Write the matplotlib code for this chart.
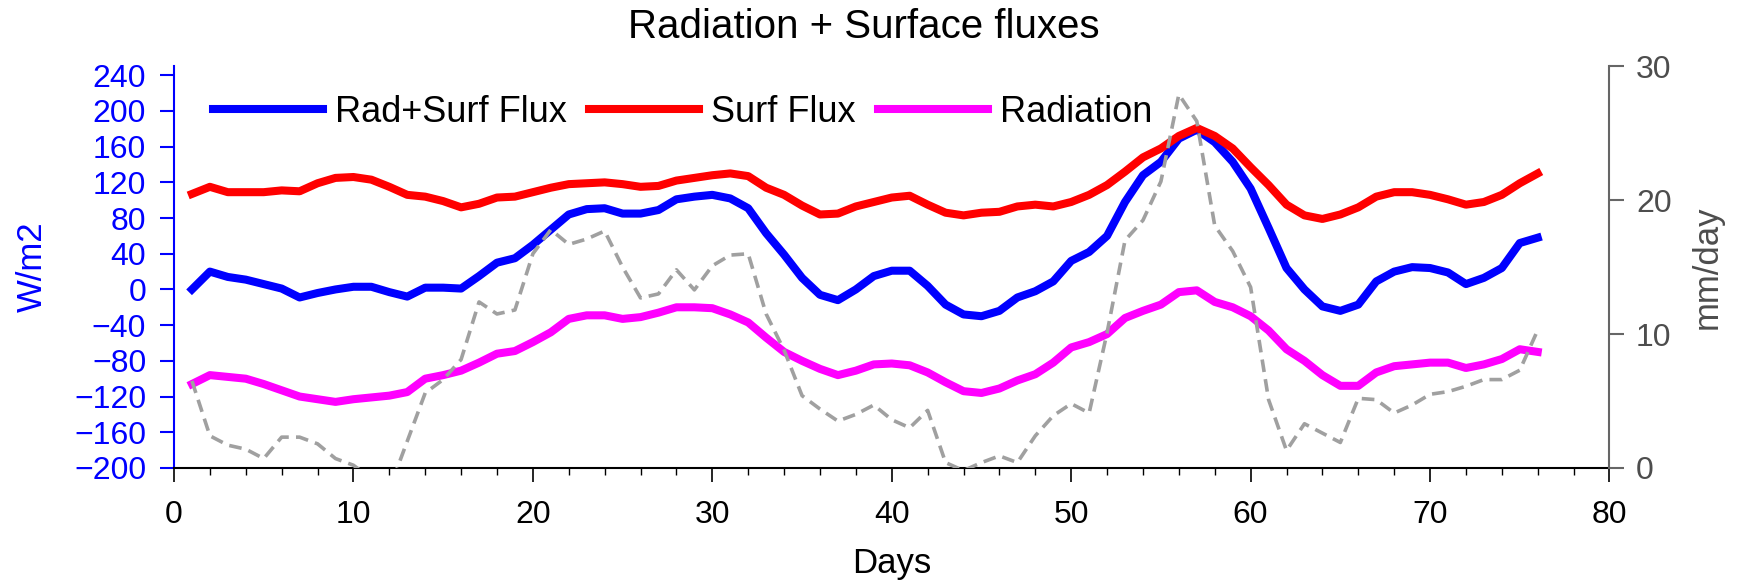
import numpy as np
import matplotlib
matplotlib.use('Agg')
import matplotlib.pyplot as plt
from matplotlib.ticker import MultipleLocator

plt.rcParams['font.family'] = ['Liberation Sans', 'DejaVu Sans']

# Дни наблюдений
days = np.arange(1, 77)

# Поток радиации + поверхностный поток (W/m2)
rad_surf = [0, 20, 14, 11, 6, 1, -9, -4, 0, 3,
            3, -3, -8, 2, 2, 1, 15, 30, 35, 50,
            67, 84, 90, 91, 85, 85, 89, 101, 104, 106,
            102, 91, 63, 39, 13, -6, -12, 0, 15, 21,
            21, 4, -17, -28, -30, -24, -9, -2, 9, 32,
            42, 60, 98, 128, 143, 169, 179, 165, 143, 113,
            69, 24, 0, -19, -24, -17, 9, 20, 25, 24,
            19, 6, 13, 24, 52, 58]

# Поверхностный поток (W/m2)
surf_flux = [107, 115, 109, 109, 109, 111, 110, 119, 125, 126,
             123, 115, 106, 104, 99, 92, 96, 103, 104, 109,
             114, 118, 119, 120, 118, 115, 116, 122, 125, 128,
             130, 127, 114, 106, 94, 84, 85, 93, 98, 103,
             105, 95, 86, 83, 86, 87, 93, 95, 93, 98,
             106, 117, 132, 148, 158, 172, 181, 172, 158, 137,
             117, 95, 83, 79, 84, 92, 104, 109, 109, 106,
             101, 95, 98, 106, 119, 130]

# Радиация (W/m2)
radiation = [-106, -96, -98, -100, -106, -113, -120, -123, -126, -123,
             -121, -119, -115, -100, -96, -91, -82, -72, -69, -59,
             -48, -33, -29, -29, -33, -31, -26, -20, -20, -21,
             -28, -37, -54, -70, -80, -89, -96, -91, -84, -83,
             -85, -93, -104, -114, -116, -111, -102, -95, -82, -65,
             -59, -50, -32, -24, -17, -3, -1, -14, -20, -30,
             -46, -67, -80, -96, -108, -108, -93, -86, -84, -82,
             -82, -88, -84, -78, -67, -70]

# Осадки (mm/day)
precip = [6.5, 2.4, 1.7, 1.4, 0.7, 2.3, 2.3, 1.8, 0.7, 0.2,
          -0.8, -1.6, 2.0, 5.6, 6.6, 8.1, 12.4, 11.5, 11.8, 16.0,
          17.8, 16.7, 17.1, 17.7, 15.0, 12.7, 13.0, 14.8, 13.3, 15.1,
          15.9, 16.0, 11.5, 8.8, 5.4, 4.4, 3.5, 4.0, 4.7, 3.6,
          3.0, 4.3, 0.4, -0.2, 0.4, 0.9, 0.4, 2.4, 3.9, 4.8,
          4.1, 10.1, 17.0, 18.5, 21.4, 27.9, 25.9, 18.1, 16.2, 13.5,
          5.1, 1.3, 3.3, 2.6, 1.9, 5.2, 5.1, 4.1, 4.7, 5.5,
          5.7, 6.1, 6.6, 6.6, 7.3, 10.3]

fig = plt.figure(figsize=(17.4, 5.82), dpi=100)
ax = fig.add_axes([0.1, 0.196, 0.825, 0.69])

ax.plot(days, rad_surf, color='#0000ff', lw=5.8, label='Rad+Surf Flux')
ax.plot(days, surf_flux, color='#ff0000', lw=5.8, label='Surf Flux')
ax.plot(days, radiation, color='#ff00ff', lw=5.8, label='Radiation')

ax.set_xlim(0, 80)
ax.set_ylim(-200, 250)
ax.set_yticks(np.arange(-200, 241, 40))
ax.xaxis.set_major_locator(MultipleLocator(10))
ax.xaxis.set_minor_locator(MultipleLocator(2))

ax.spines['top'].set_visible(False)
ax.spines['right'].set_visible(False)
ax.spines['left'].set_color('#0000ff')
ax.spines['left'].set_linewidth(1.5)
ax.spines['bottom'].set_linewidth(1.5)

ax.tick_params(axis='y', colors='#0000ff', labelsize=23, length=10, width=1.5, direction='out', pad=10)
ax.tick_params(axis='x', which='major', labelsize=23, length=10, width=1.2, direction='out', pad=13)
ax.tick_params(axis='x', which='minor', length=5, width=1.0, direction='out')

ax.set_ylabel('W/m2', color='#0000ff', fontsize=25, labelpad=18)
ax.set_xlabel('Days', fontsize=25, labelpad=12)
fig.text(0.4963, 0.953, 'Radiation + Surface fluxes', fontsize=29, ha='center', va='center')

ax.legend(loc='center left', bbox_to_anchor=(0.027, 0.885), frameon=False,
          ncol=3, fontsize=26, handlelength=3.05, handletextpad=0.33,
          columnspacing=0.62, borderpad=0, borderaxespad=0)

ax2 = ax.twinx()
ax2.plot(days, precip, color='#a0a0a0', lw=2.6, linestyle=(0, (3.5, 2.0)))
ax2.set_ylim(0, 30)
ax2.set_yticks([0, 10, 20, 30])
for s in ['top', 'left', 'bottom']:
    ax2.spines[s].set_visible(False)
ax2.spines['right'].set_color('#666666')
ax2.spines['right'].set_linewidth(1.5)
ax2.tick_params(axis='y', colors='#666666', labelcolor='#4d4d4d', labelsize=23,
                length=10.5, width=1.5, direction='out', pad=8.5)
ax2.set_ylabel('mm/day', color='#4d4d4d', fontsize=25, labelpad=14)

fig.savefig('out.png', dpi=100)
